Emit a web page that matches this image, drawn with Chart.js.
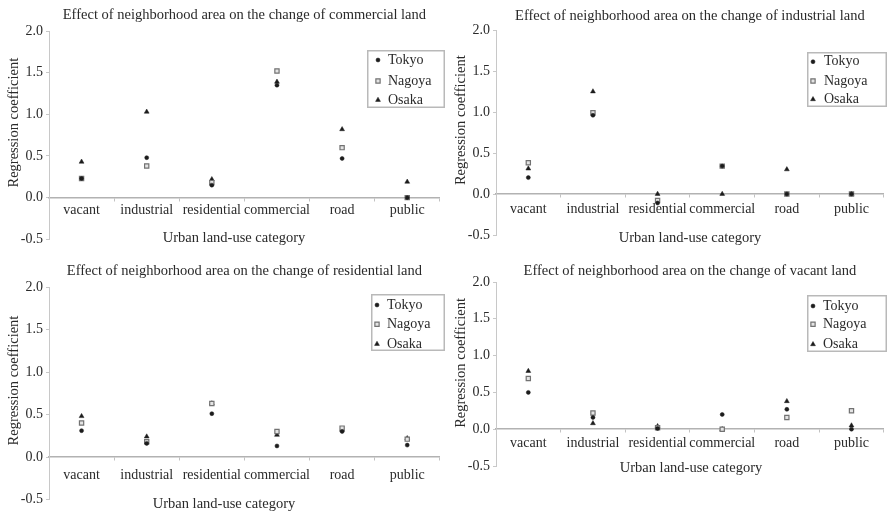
<!DOCTYPE html>
<html><head><meta charset="utf-8">
<script src="https://cdn.jsdelivr.net/npm/chart.js@4.4.1/dist/chart.umd.min.js"></script>
<style>
html,body{margin:0;padding:0;background:#fff;width:889px;height:512px;overflow:hidden;position:relative}
canvas{position:absolute}
</style></head><body>
<canvas id="c1" width="445" height="256" style="left:0px;top:0px"></canvas>
<canvas id="c2" width="445" height="256" style="left:444px;top:0px"></canvas>
<canvas id="c3" width="445" height="256" style="left:0px;top:256px"></canvas>
<canvas id="c4" width="445" height="256" style="left:444px;top:256px"></canvas>
<script>
// ---------- data ----------
const categories = ['vacant', 'industrial', 'residential', 'commercial', 'road', 'public'];
const seriesNames = ['Tokyo', 'Nagoya', 'Osaka'];
const yTickMin = -0.5, yTickMax = 2.0, yTickStep = 0.5;
const xAxisTitle = 'Urban land-use category';
const yAxisTitle = 'Regression coefficient';

const titleCommercial  = 'Effect of neighborhood area on the change of commercial land';
const titleIndustrial  = 'Effect of neighborhood area on the change of industrial land';
const titleResidential = 'Effect of neighborhood area on the change of residential land';
const titleVacant      = 'Effect of neighborhood area on the change of vacant land';

const commercialTokyo  = [0.23, 0.48, 0.15, 1.35, 0.47, 0.00];
const commercialNagoya = [0.23, 0.38, 0.18, 1.52, 0.60, 0.00];
const commercialOsaka  = [0.43, 1.03, 0.22, 1.39, 0.82, 0.19];

const industrialTokyo  = [0.20, 0.96, -0.11, 0.34, 0.00, 0.00];
const industrialNagoya = [0.38, 0.99, -0.08, 0.34, 0.00, 0.00];
const industrialOsaka  = [0.31, 1.25, 0.00, 0.00, 0.30, 0.00];

const residentialTokyo  = [0.31, 0.16, 0.51, 0.13, 0.30, 0.14];
const residentialNagoya = [0.40, 0.18, 0.63, 0.30, 0.34, 0.21];
const residentialOsaka  = [0.48, 0.24, 0.63, 0.26, 0.32, 0.22];

const vacantTokyo  = [0.50, 0.16, 0.01, 0.20, 0.27, 0.00];
const vacantNagoya = [0.69, 0.22, 0.02, 0.00, 0.16, 0.25];
const vacantOsaka  = [0.79, 0.08, 0.04, 0.00, 0.38, 0.05];

// ---------- styles / layout ----------
const SERIF = "'Liberation Serif','Times New Roman',serif";
const TEXT = '#2a2a2a';
Chart.defaults.font.family = SERIF;
Chart.defaults.font.size = 14;
Chart.defaults.color = TEXT;

const markerStyles = [
  {pointStyle: 'circle',   radius: 2.0, bg: '#1c1c1c', border: '#1c1c1c', bw: 0.5},
  {pointStyle: 'rect',     radius: 3.0, bg: '#e4e4e4', border: '#727272', bw: 1.2},
  {pointStyle: 'triangle', radius: 2.8, bg: '#1c1c1c', border: '#1c1c1c', bw: 0.5}
];

const panels = [
  {id: 'c1', title: titleCommercial, values: [commercialTokyo, commercialNagoya, commercialOsaka],
   lay: {left: 49, tTop: 6.3, tBottom: 7.3, bottom: 16.7, tickPad: 1, xT: [234, 238],
         legend: {x: 367, y: 50, w: 78, h: 58, rows: [60, 81, 100], mx: 11, tx: 21}}},
  {id: 'c2', title: titleIndustrial, values: [industrialTokyo, industrialNagoya, industrialOsaka],
   lay: {left: 52, tTop: 7, tBottom: 5.6, bottom: 21, tickPad: 4, xT: [246, 238],
         legend: {x: 363, y: 52, w: 80, h: 55, rows: [61.7, 81, 99.3], mx: 6, tx: 17}}},
  {id: 'c3', title: titleResidential, values: [residentialTokyo, residentialNagoya, residentialOsaka],
   lay: {left: 49, tTop: 6.3, tBottom: 7.3, bottom: 12.5, tickPad: 7, xT: [224, 248],
         legend: {x: 371, y: 38, w: 74, h: 57, rows: [49, 68.3, 88], mx: 6, tx: 16}}},
  {id: 'c4', title: titleVacant, values: [vacantTokyo, vacantNagoya, vacantOsaka],
   lay: {left: 52, tTop: 6.3, tBottom: 2.3, bottom: 46, tickPad: 3, xT: [247, 212],
         legend: {x: 363, y: 39, w: 80, h: 57, rows: [50, 68.3, 88.3], mx: 6, tx: 16}}}
];

function drawMarker(ctx, ds, x, y) {
  ctx.fillStyle = ds.pointBackgroundColor;
  ctx.strokeStyle = ds.pointBorderColor;
  ctx.lineWidth = ds.pointBorderWidth;
  if (Chart.helpers && Chart.helpers.drawPoint) {
    Chart.helpers.drawPoint(ctx, {pointStyle: ds.pointStyle, radius: ds.pointRadius,
      borderWidth: ds.pointBorderWidth, rotation: 0}, x, y);
    return;
  }
  const r = ds.pointRadius;
  ctx.beginPath();
  if (ds.pointStyle === 'rect') { const s = r * Math.SQRT1_2; ctx.rect(x - s, y - s, 2 * s, 2 * s); }
  else if (ds.pointStyle === 'triangle') { ctx.moveTo(x, y - r); ctx.lineTo(x + r * 0.866, y + r / 2); ctx.lineTo(x - r * 0.866, y + r / 2); ctx.closePath(); }
  else ctx.arc(x, y, r, 0, Math.PI * 2);
  ctx.fill(); ctx.stroke();
}

const boxLegend = {
  id: 'boxLegend',
  afterDraw(chart, args, o) {
    const L = o.box; if (!L) return;
    const ctx = chart.ctx;
    ctx.save();
    ctx.fillStyle = '#fff';
    ctx.fillRect(L.x, L.y, L.w, L.h);
    ctx.strokeStyle = '#b9b9b9'; ctx.lineWidth = 1.5;
    ctx.strokeRect(L.x + 0.75, L.y + 0.75, L.w - 1.5, L.h - 1.5);
    chart.data.datasets.forEach((ds, i) => {
      const y = L.rows[i];
      drawMarker(ctx, ds, L.x + L.mx, y);
      ctx.fillStyle = TEXT;
      ctx.font = '14px ' + SERIF;
      ctx.textAlign = 'left'; ctx.textBaseline = 'middle';
      ctx.fillText(ds.label, L.x + L.tx, y);
    });
    ctx.restore();
  }
};

const axisTitles = {
  id: 'axisTitles',
  afterDraw(chart, args, o) {
    const ctx = chart.ctx;
    ctx.save();
    ctx.fillStyle = TEXT;
    ctx.font = '14.5px ' + SERIF;
    ctx.textAlign = 'center'; ctx.textBaseline = 'middle';
    ctx.fillText(o.xText, o.xPos[0], o.xPos[1]);
    const yc = chart.scales.y.getPixelForValue(o.yCenterValue);
    ctx.translate(chart.chartArea.left - 35, yc);
    ctx.rotate(-Math.PI / 2);
    ctx.fillText(o.yText, 0, 0);
    ctx.restore();
  }
};

panels.forEach(p => {
  const datasets = seriesNames.map((name, i) => ({
    label: name,
    data: p.values[i],
    showLine: false,
    pointStyle: markerStyles[i].pointStyle,
    pointRadius: markerStyles[i].radius,
    pointBackgroundColor: markerStyles[i].bg,
    pointBorderColor: markerStyles[i].border,
    pointBorderWidth: markerStyles[i].bw,
    backgroundColor: markerStyles[i].bg,
    borderColor: markerStyles[i].border
  }));
  new Chart(document.getElementById(p.id), {
    type: 'line',
    data: {labels: categories, datasets},
    plugins: [boxLegend, axisTitles],
    options: {
      responsive: false,
      animation: false,
      events: [],
      devicePixelRatio: 1,
      layout: {padding: {left: 0, right: 0, top: 0, bottom: p.lay.bottom}},
      plugins: {
        legend: {display: false},
        tooltip: {enabled: false},
        title: {display: true, text: p.title, fullSize: false, color: TEXT,
                font: {size: 14.5, weight: 'normal', family: SERIF},
                padding: {top: p.lay.tTop, bottom: p.lay.tBottom}},
        boxLegend: {box: p.lay.legend},
        axisTitles: {xText: xAxisTitle, yText: yAxisTitle, xPos: p.lay.xT, yCenterValue: 0.9}
      },
      scales: {
        x: {
          type: 'category', position: {y: 0}, offset: true,
          grid: {display: true, offset: true, drawOnChartArea: false, drawTicks: true, tickLength: 3, color: '#c2c2c2'},
          border: {display: true, color: '#b2b2b2', width: 1.5},
          ticks: {padding: p.lay.tickPad, color: TEXT, font: {size: 14}, maxRotation: 0, autoSkip: false}
        },
        y: {
          type: 'linear', position: 'left', min: yTickMin, max: yTickMax,
          afterFit: s => { s.width = p.lay.left; },
          grid: {display: true, drawOnChartArea: false, drawTicks: true, tickLength: 3, color: '#c8c8c8'},
          border: {display: true, color: '#c8c8c8', width: 1},
          ticks: {stepSize: yTickStep, padding: 3, color: TEXT, font: {size: 14},
                  callback: v => Number(v).toFixed(1)}
        }
      }
    }
  });
});
</script>
</body></html>
